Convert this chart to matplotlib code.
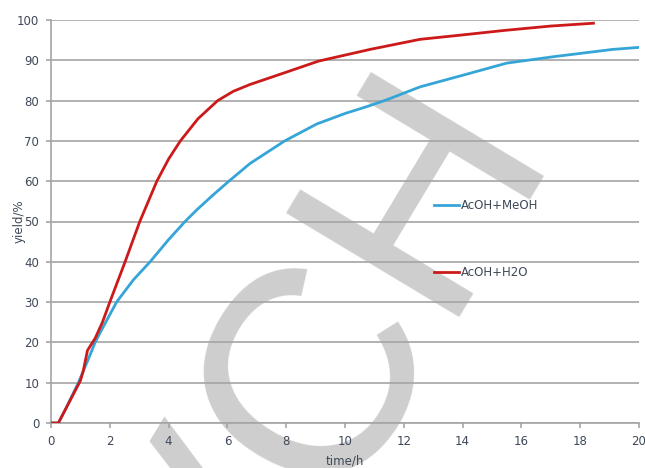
import matplotlib
matplotlib.use("Agg")
import matplotlib.pyplot as plt
from matplotlib.lines import Line2D

# ---- data ----
t_meoh = [0, 0.25, 0.5, 0.93, 1.25, 1.5, 1.75, 2.23, 2.8, 3.37, 4.0, 4.56, 4.96,
          5.5, 6.05, 6.77, 7.95, 9.04, 10.0, 10.74, 11.42, 12.55, 14.26, 15.5,
          17.1, 19.1, 20.0]
y_meoh = [0, 0, 3.5, 10, 15.5, 20, 23.5, 30, 35.5, 40, 45.5, 50, 52.9,
          56.5, 60, 64.4, 70, 74.2, 76.8, 78.5, 80.2, 83.4, 86.8, 89.3,
          90.9, 92.7, 93.2]

t_h2o = [0, 0.25, 0.5, 0.75, 1.0, 1.1, 1.24, 1.5, 1.75, 2.0, 2.52, 3.02, 3.6,
         4.0, 4.4, 5.0, 5.67, 6.2, 6.77, 7.9, 9.1, 10.85, 12.55, 14.0, 15.4,
         17.0, 18.45]
y_h2o = [0, 0, 3.5, 7, 10.5, 13, 18, 21, 25, 30, 40, 50, 60,
         65.5, 70, 75.5, 80, 82.3, 84, 86.8, 89.8, 92.7, 95.2, 96.3, 97.4,
         98.5, 99.2]

labels = ["AcOH+MeOH", "AcOH+H2O"]
xticks = list(range(0, 21, 2))
yticks = list(range(0, 101, 10))

# ---- style ----
W, H, DPI = 645, 468, 100
blue = "#35a5d8"
red = "#cc1a1a"
grid_c = "#a4a4a4"
txt_c = "#3e4858"
fs = 8.5

fig = plt.figure(figsize=(W / DPI, H / DPI), dpi=DPI)
fig.patch.set_facecolor("white")

# watermark behind the axes
fig.text(397.7 / W, 47.7 / H, "VCH", fontsize=212, family="Liberation Sans",
         color="#cecece", rotation=59, rotation_mode="anchor",
         ha="center", va="baseline", zorder=-5)

ax = fig.add_axes([51 / W, 1 - 423 / H, (639 - 51) / W, (423 - 20) / H])
ax.patch.set_alpha(0)

ax.plot(t_meoh, y_meoh, color=blue, lw=2.0, zorder=3)
ax.plot(t_h2o, y_h2o, color=red, lw=2.0, zorder=3)

ax.set_xlim(0, 20)
ax.set_ylim(0, 100)
ax.set_xticks(xticks)
ax.set_yticks(yticks)
ax.yaxis.grid(True, color=grid_c, lw=1.2)
ax.set_axisbelow(True)

for s in ["top", "right"]:
    ax.spines[s].set_visible(False)
for s in ["left", "bottom"]:
    ax.spines[s].set_color(grid_c)
    ax.spines[s].set_linewidth(1.2)

ax.tick_params(axis="both", colors=grid_c, labelcolor=txt_c, labelsize=fs,
               width=1.2, length=3.5, pad=5)

ax.set_xlabel("time/h", fontsize=fs, color=txt_c)
ax.xaxis.set_label_coords(0.5, (423 - 467) / (423 - 20))
ax.xaxis.label.set_va("bottom")
ax.set_ylabel("yield/%", fontsize=fs, color=txt_c)
ax.yaxis.set_label_coords((25.5 - 51) / (639 - 51), 0.5)

handles = [Line2D([], [], color=blue, lw=2.0), Line2D([], [], color=red, lw=2.0)]
leg = ax.legend(handles, labels, loc="upper left",
                bbox_to_anchor=(434 / W, 1 - 199 / H),
                bbox_transform=fig.transFigure, frameon=False, fontsize=fs,
                handlelength=2.1, handletextpad=0.15, labelspacing=4.55,
                borderpad=0, borderaxespad=0)
for tx in leg.get_texts():
    tx.set_color(txt_c)

fig.savefig("out.png", dpi=DPI)
